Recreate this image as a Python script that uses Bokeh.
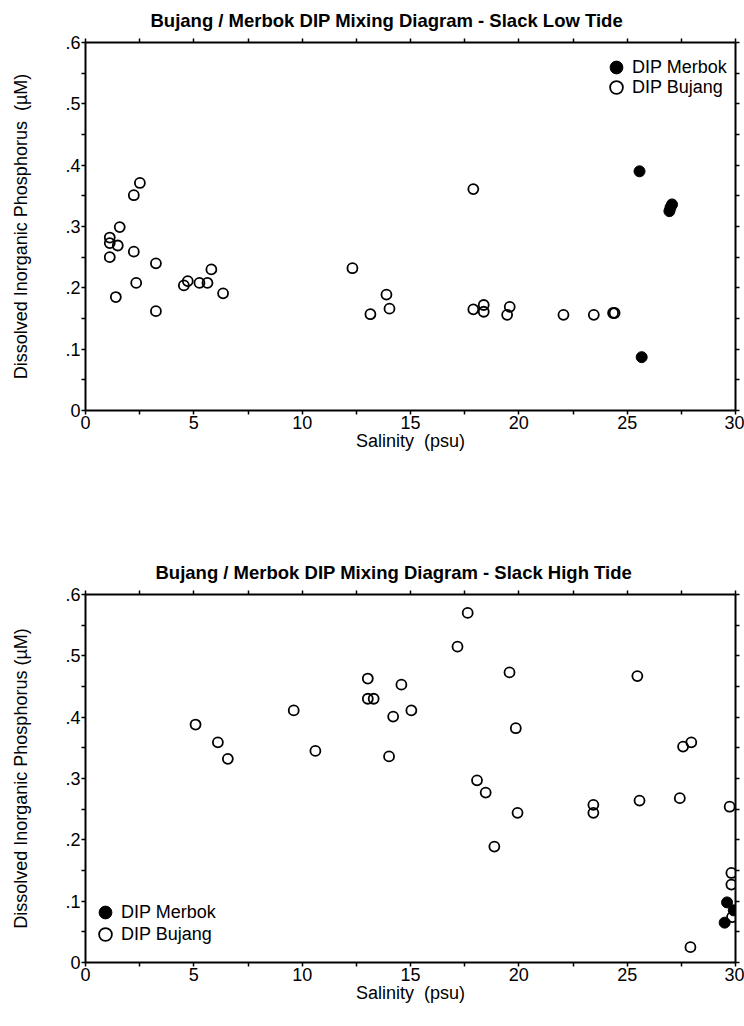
from bokeh.plotting import figure
from bokeh.models import (Range1d, LinearAxis, FixedTicker, CustomJSTickFormatter,
                          Legend, LegendItem)
from bokeh.layouts import column
from bokeh.embed import file_html
from bokeh.resources import INLINE

# ---------------- data ----------------
# Slack Low Tide
low_bujang_sal = [2.51, 2.23, 1.58, 1.12, 1.12, 1.49, 2.23, 1.12, 3.25, 5.81, 2.34, 4.72, 4.54,
                  5.26, 5.63, 6.35, 1.40, 3.25, 12.32, 13.15, 13.89, 14.03, 17.90, 17.90, 18.38,
                  18.38, 19.58, 19.46, 22.06, 23.46, 24.35, 24.42]
low_bujang_dip = [0.371, 0.351, 0.299, 0.282, 0.273, 0.269, 0.259, 0.250, 0.240, 0.230, 0.208,
                  0.211, 0.204, 0.208, 0.208, 0.191, 0.185, 0.162, 0.232, 0.157, 0.189, 0.166,
                  0.361, 0.165, 0.172, 0.161, 0.169, 0.156, 0.156, 0.156, 0.159, 0.159]
low_merbok_sal = [25.57, 27.07, 27.00, 26.95, 25.67]
low_merbok_dip = [0.390, 0.336, 0.331, 0.325, 0.087]

# Slack High Tide
high_bujang_sal = [5.08, 6.11, 6.57, 9.61, 10.61, 13.03, 13.03, 13.30, 14.58, 15.04, 14.20, 14.01,
                   17.17, 17.64, 19.57, 19.86, 18.07, 18.47, 18.87, 19.94, 23.44, 23.44, 25.47,
                   25.57, 27.43, 27.58, 27.96, 27.92, 29.73, 29.81, 29.81, 29.84]
high_bujang_dip = [0.388, 0.359, 0.332, 0.411, 0.345, 0.463, 0.430, 0.430, 0.453, 0.411, 0.401,
                   0.336, 0.515, 0.570, 0.473, 0.382, 0.297, 0.277, 0.189, 0.244, 0.257, 0.244,
                   0.467, 0.264, 0.268, 0.352, 0.359, 0.025, 0.254, 0.146, 0.127, 0.074]
high_merbok_sal = [29.61, 29.92, 29.50]
high_merbok_dip = [0.098, 0.085, 0.065]

x_major_ticks = [0, 5, 10, 15, 20, 25, 30]
x_minor_ticks = [2.5, 7.5, 12.5, 17.5, 22.5, 27.5]
y_major_ticks = [0.0, 0.1, 0.2, 0.3, 0.4, 0.5, 0.6]
y_minor_ticks = [0.05, 0.15, 0.25, 0.35, 0.45, 0.55]

FONT = "Liberation Sans"
FS = "18px"


def style_axis(ax):
    ax.axis_line_width = 2
    ax.axis_line_color = "black"
    ax.major_tick_out = 4
    ax.major_tick_in = 0
    ax.minor_tick_out = 4
    ax.minor_tick_in = 0
    ax.major_tick_line_width = 1.5
    ax.minor_tick_line_width = 1.5
    ax.major_tick_line_color = "black"
    ax.minor_tick_line_color = "black"
    ax.major_label_text_font = FONT
    ax.major_label_text_color = "black"
    ax.major_label_text_font_size = FS
    ax.major_label_standoff = 1
    ax.axis_label_text_font = FONT
    ax.axis_label_text_font_style = "normal"
    ax.axis_label_text_font_size = FS
    ax.axis_label_text_color = "black"


def make_plot(title, ylabel, bujang_sal, bujang_dip, merbok_sal, merbok_dip,
              bottom_border, leg_merbok_loc, leg_bujang_loc, title_offset, ylabel_standoff):
    p = figure(frame_width=650, frame_height=368,
               min_border_left=85, min_border_right=9, min_border_top=42,
               min_border_bottom=bottom_border,
               x_range=Range1d(0, 30), y_range=Range1d(0, 0.6),
               output_backend="svg", toolbar_location=None, tools="")
    p.outline_line_color = None
    p.xgrid.visible = False
    p.ygrid.visible = False
    p.background_fill_color = "white"
    p.border_fill_color = "white"

    p.title.text = title
    p.title.text_font = FONT
    p.title.text_font_size = "18.5px"
    p.title.text_font_style = "bold"
    p.title.text_color = "black"
    p.title.align = "left"
    p.title.vertical_align = "middle"
    p.title.offset = title_offset
    p.title.standoff = 14

    yfmt = CustomJSTickFormatter(code="""
        if (Math.abs(tick) < 1e-9) { return '0'; }
        return tick.toFixed(1).replace(/^0/, '');
    """)

    p.xaxis.ticker = FixedTicker(ticks=x_major_ticks, minor_ticks=x_minor_ticks)
    p.yaxis.ticker = FixedTicker(ticks=y_major_ticks, minor_ticks=y_minor_ticks)
    p.yaxis.formatter = yfmt
    p.xaxis.axis_label = "Salinity \u00a0(psu)"
    p.yaxis.axis_label = ylabel
    style_axis(p.xaxis[0])
    style_axis(p.yaxis[0])
    p.xaxis.axis_label_standoff = -1
    p.yaxis.axis_label_standoff = ylabel_standoff

    top = LinearAxis(ticker=FixedTicker(ticks=[], minor_ticks=x_major_ticks + x_minor_ticks))
    right = LinearAxis(ticker=FixedTicker(ticks=[], minor_ticks=y_major_ticks + y_minor_ticks))
    style_axis(top)
    style_axis(right)
    p.add_layout(top, "above")
    p.add_layout(right, "right")

    rb = p.scatter(bujang_sal, bujang_dip, size=10, marker="circle",
                   fill_color=None, line_color="black", line_width=1.8)
    rm = p.scatter(merbok_sal, merbok_dip, size=11, marker="circle",
                   fill_color="black", line_color="black", line_width=1)

    for label, rend, loc in (("DIP Merbok", rm, leg_merbok_loc),
                             ("DIP Bujang", rb, leg_bujang_loc)):
        leg = Legend(items=[LegendItem(label=label, renderers=[rend])],
                     location=loc, orientation="vertical",
                     glyph_width=32, glyph_height=32,
                     label_standoff=0, padding=0, margin=0,
                     border_line_color=None, background_fill_alpha=0,
                     label_text_font=FONT, label_text_font_size=FS,
                     label_text_color="black")
        p.add_layout(leg, "center")
    return p


p1 = make_plot("Bujang / Merbok DIP Mixing Diagram - Slack Low Tide",
               "Dissolved Inorganic Phosphorus \u00a0(\u00b5M)",
               low_bujang_sal, low_bujang_dip, low_merbok_sal, low_merbok_dip,
               bottom_border=142, leg_merbok_loc=(515, 327), leg_bujang_loc=(515, 307),
               title_offset=65, ylabel_standoff=31)
p2 = make_plot("Bujang / Merbok DIP Mixing Diagram - Slack High Tide",
               "Dissolved Inorganic Phosphorus (\u00b5M)",
               high_bujang_sal, high_bujang_dip, high_merbok_sal, high_merbok_dip,
               bottom_border=56, leg_merbok_loc=(4, 34), leg_bujang_loc=(4, 12),
               title_offset=70, ylabel_standoff=31)

layout = column(p1, p2, spacing=0)
open("out.html", "w").write(file_html(layout, INLINE))
